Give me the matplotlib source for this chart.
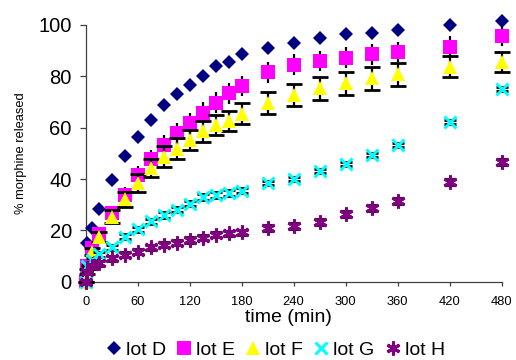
import matplotlib
matplotlib.use("Agg")
import matplotlib.pyplot as plt

plt.rcParams['font.family'] = ['Liberation Sans', 'DejaVu Sans']

# vremena uzorkovanja (min) i oslobodjeni morfin (%)
times = [0, 2, 7, 15, 30, 45, 60, 75, 90, 105, 120, 135, 150, 165, 180,
         210, 240, 270, 300, 330, 360, 420, 480]

lot_d = [0, 15, 21, 28.3, 39.5, 49, 56.5, 63, 69, 73, 76.6, 80, 84, 85.7, 88.6,
         91, 93, 95, 96.3, 97, 98, 100, 101.5]
lot_e = [0, 6, 13, 18.5, 26.7, 33.8, 41.4, 47.8, 53.2, 57.8, 61.7, 65.8, 69.7, 73.3, 76.2,
         81.5, 84.5, 86, 87.2, 88.5, 89.5, 91.5, 95.7]
lot_f = [0, 4, 11.8, 17.5, 25.4, 32.1, 38.6, 44.2, 48.7, 51.8, 55.2, 58.6, 61, 62.6, 65.5,
         69.5, 72.7, 75.3, 77.2, 79.2, 80.8, 83.7, 85.6]
lot_g = [0, 6, 8.5, 10.8, 13.5, 17.5, 20.5, 23.5, 26, 28, 30.4, 33, 33.8, 34.6, 35.5,
         38.6, 40, 43.1, 45.7, 49.4, 53.2, 62.3, 74.9]
lot_h = [0, 4, 6, 7.3, 9.2, 10.5, 11.8, 13.5, 14.4, 15.3, 16.3, 17.2, 18.3, 18.9, 19.3,
         20.9, 21.8, 23.4, 26.3, 28.6, 31.6, 38.7, 46.8]

# standardne devijacije
sd_d = [0, 0.5, 0.5, 0.8, 1, 1, 1, 1, 1, 1, 1, 1, 1, 1, 1, 1, 1, 1, 1, 1, 1, 1, 1]
sd_e = [0, 1, 1.5, 2, 2.5, 3, 3.5, 3.5, 4, 4, 4, 4, 4, 4, 4, 4, 4, 4, 4, 4, 4, 4, 4]
sd_f = [0, 1, 1.5, 2, 2.5, 3, 3.5, 3.5, 4, 4, 4, 4, 4, 4, 4, 4.2, 4.4, 4.4, 4.4, 4.4, 4.4, 4, 4]
sd_g = [0, 0.5, 0.8, 1, 1, 1, 1, 1, 1, 1, 1, 1, 1, 1, 1, 0.8, 0.8, 0.8, 0.8, 0.8, 0.8, 0.8, 0.8]
sd_h = [0, 0.5, 0.8, 1, 1, 1, 1, 1, 1, 1, 1, 1, 1, 1, 1, 1.2, 1.2, 1.2, 1.2, 1.2, 1.2, 1.2, 1.2]

labels = ['lot D', 'lot E', 'lot F', 'lot G', 'lot H']

fig = plt.figure(figsize=(5.16, 3.6), dpi=100)
ax = fig.add_axes([0.166, 0.217, 0.806, 0.714])

serije = [
    (lot_d, sd_d, 'D', '#000080', 7.5, 0, 0),
    (lot_e, sd_e, 's', '#FF00FF', 9.5, 0, 0),
    (lot_f, sd_f, '^', '#FFFF00', 10, 0, 5.5),
    (lot_g, sd_g, 'x', '#00FFFF', 9, 2.2, 4.5),
    (lot_h, sd_h, (6, 2, 0), '#800080', 10, 2.2, 4.5),
]

handles = []
for k, (y, sd, m, c, ms, mew, cap) in enumerate(serije):
    ax.errorbar(times, y, yerr=sd, fmt='none', ecolor='black', elinewidth=1.6,
                capsize=cap, capthick=2, zorder=2 + 2 * k, clip_on=False)
    h, = ax.plot(times, y, ls='none', marker=m, ms=ms, color=c, mec=c, mew=mew,
                 zorder=3 + 2 * k, clip_on=False, label=labels[k])
    handles.append(h)

ax.set_xlim(0, 480)
ax.set_ylim(0, 100)
ax.set_xticks(range(0, 481, 60))
ax.set_yticks(range(0, 101, 20))
ax.spines['top'].set_visible(False)
ax.spines['right'].set_visible(False)
for s in ['left', 'bottom']:
    ax.spines[s].set_color('#404040')
    ax.spines[s].set_linewidth(0.9)
ax.tick_params(axis='y', labelsize=14.5, length=4, width=0.9, color='#404040', pad=6)
ax.tick_params(axis='x', labelsize=9.3, length=3, width=0.9, color='#404040', pad=7)

ax.set_ylabel('% morphine released', fontsize=9.3, labelpad=8)
fig.text(288 / 516, 1 - 317 / 360, 'time (min)', fontsize=14, ha='center', va='center')

fig.legend(handles=handles, loc='center', bbox_to_anchor=(0.532, 0.028), ncol=5,
           frameon=False, fontsize=14, handletextpad=0.1, columnspacing=0.45,
           handlelength=1.0, borderaxespad=0)

fig.savefig('out.png', dpi=100)
